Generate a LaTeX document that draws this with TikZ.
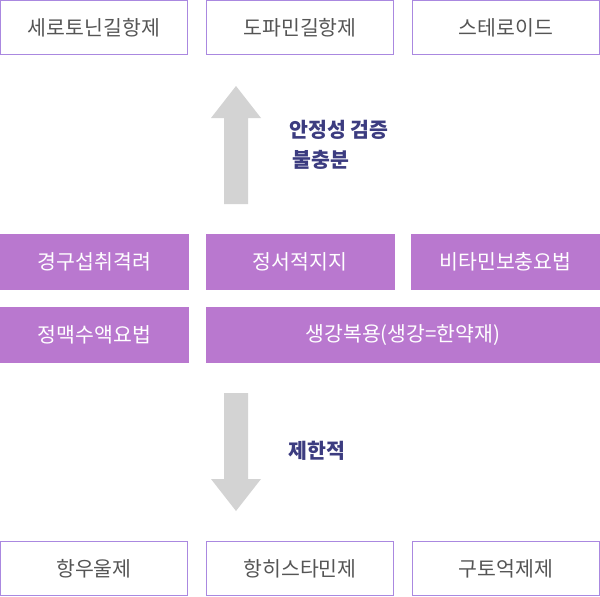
\documentclass[tikz,border=0pt]{standalone}
\usepackage{fontspec}
\setmainfont{Noto Sans CJK KR}
\usepackage{tikz}
\usetikzlibrary{positioning}
\definecolor{boxline}{RGB}{170,136,224}
\definecolor{boxfill}{RGB}{185,120,207}
\definecolor{boxtext}{RGB}{85,85,85}
\definecolor{labeltext}{RGB}{60,60,128}
\definecolor{arrowgray}{RGB}{211,211,211}

\begin{document}
\begin{tikzpicture}[x=1pt, y=-1pt, line width=1pt,
  drug node/.style={rectangle,draw=boxline,fill=white,text=boxtext,minimum width=187pt,minimum height=54pt,inner sep=0pt,font=\fontsize{20.5}{22}\selectfont},
  care node/.style={rectangle,fill=boxfill,text=white,minimum width=189pt,minimum height=56pt,inner sep=0pt,font=\fontsize{20.5}{22}\selectfont},
  note node/.style={text=labeltext,inner sep=0pt,anchor=west,font=\fontsize{20.5}{22}\selectfont\bfseries}]
\useasboundingbox (0,0) rectangle (600,597);
% top row
\node[drug node] (d1) at (94,27.5) {세로토닌길항제};
\node[drug node] (d2) at (300,27.5) {도파민길항제};
\node[drug node] (d3) at (506,27.5) {스테로이드};
% middle rows
\node[care node] (c1) at (94.5,262) {경구섭취격려};
\node[care node] (c2) at (300,262) {정서적지지};
\node[care node] (c3) at (505.5,262) {비타민보충요법};
\node[care node] (c4) at (94.5,335) {정맥수액요법};
\node[care node, minimum width=394pt] (c5) at (403,335) {생강복용(생강=한약재)};
% bottom row
\node[drug node] (d4) at (94,568.5) {항우울제};
\node[drug node] (d5) at (300,568.5) {항히스타민제};
\node[drug node] (d6) at (506,568.5) {구토억제제};
% arrows
\fill[arrowgray] (224,204) -- (224,118) -- (211,118) -- (236,86) -- (261,118) -- (248,118) -- (248,204) -- cycle;
\fill[arrowgray] (224,393) -- (224,479) -- (211,479) -- (236,511) -- (261,479) -- (248,479) -- (248,393) -- cycle;
\node[note node] (n1) at (289,130) {안정성 검증};
\node[note node] (n2) at (292,160) {불충분};
\node[note node] (n3) at (288,451) {제한적};
\end{tikzpicture}
\end{document}
